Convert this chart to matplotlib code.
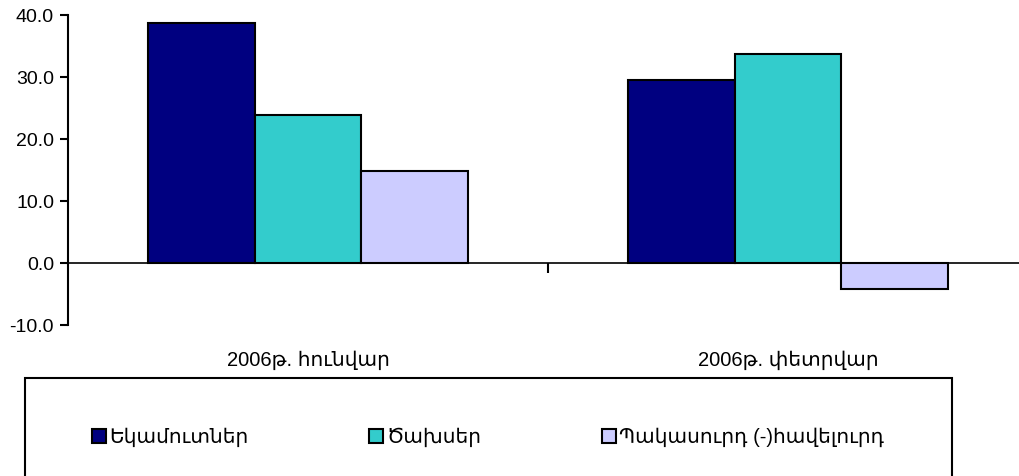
import numpy as np
import matplotlib
matplotlib.use("Agg")
import matplotlib.pyplot as plt
from matplotlib.patches import Rectangle

plt.rcParams['font.family'] = ['Liberation Sans', 'DejaVu Sans']

# Data
categories = ['2006թ. հունվար', '2006թ. փետրվար']
series_names = ['Եկամուտներ', 'Ծախսեր', 'Պակասուրդ (-)հավելուրդ']
revenues = [38.7, 29.5]
expenses = [23.9, 33.7]
balance = [14.8, -4.2]
series_values = [revenues, expenses, balance]
colors = ['#000080', '#33CCCC', '#CCCCFF']
yticks = [-10.0, 0.0, 10.0, 20.0, 30.0, 40.0]

W, H = 1019, 476
fig = plt.figure(figsize=(W / 100, H / 100), dpi=100)
ax = fig.add_axes([68 / W, (H - 325) / H, (1028 - 68) / W, (325 - 15) / H])

x = np.arange(len(categories))
bw = 0.222
handles = []
for i, (name, vals, c) in enumerate(zip(series_names, series_values, colors)):
    b = ax.bar(x + (i - 1) * bw, vals, width=bw, color=c, edgecolor='black',
               linewidth=1.5, label=name)
    handles.append(b)

ax.set_xlim(-0.5, 1.5)
ax.set_ylim(-10, 40)
ax.set_yticks(yticks)
ax.set_yticklabels([f"{v:.1f}" for v in yticks], fontsize=14)
ax.tick_params(axis='y', direction='out', length=6, width=1.5, pad=4)

for s in ['top', 'right']:
    ax.spines[s].set_visible(False)
ax.spines['left'].set_linewidth(1.5)
ax.spines['bottom'].set_position(('data', 0))
ax.spines['bottom'].set_linewidth(1.2)

# category separator tick
ax.set_xticks([0.5])
ax.set_xticklabels([''])
ax.tick_params(axis='x', direction='out', length=7, width=1.5)

# category labels below the plot area
for xi, lab in zip(x, categories):
    ax.text(xi, -0.115, lab, transform=ax.get_xaxis_transform(), ha='center',
            va='center', fontsize=14.5)

# legend box
fig.patches.append(Rectangle((25 / W, -0.01), (952 - 25) / W, (H - 378) / H + 0.01,
                             transform=fig.transFigure, fill=False,
                             edgecolor='black', linewidth=1.5))
fig.legend(handles=handles, labels=series_names, loc='center left',
           bbox_to_anchor=(74 / W, (H - 437) / H), ncol=3, frameon=False,
           fontsize=14.5, handlelength=0.7, handleheight=0.7, handletextpad=0.15,
           columnspacing=6.0)

fig.savefig('out.png', dpi=100)
